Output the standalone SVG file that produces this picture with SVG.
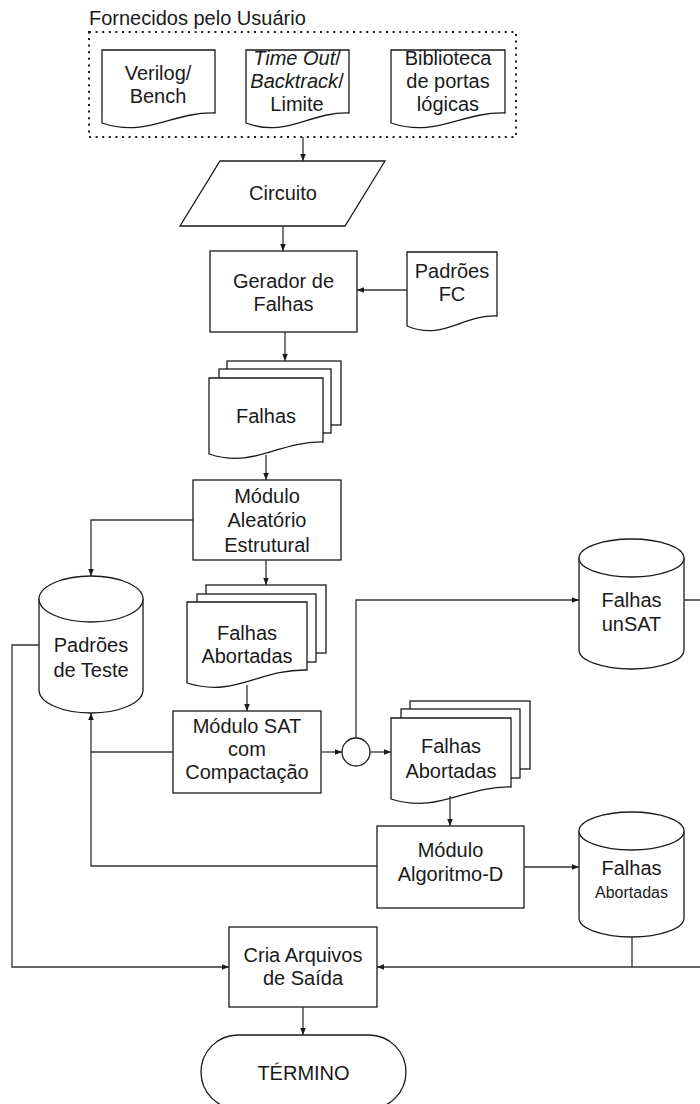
<svg xmlns="http://www.w3.org/2000/svg" width="700" height="1104" viewBox="0 0 700 1104">
  <style>
    .shape { fill: #ffffff; stroke: #1a1a1a; stroke-width: 1.3; }
    .edge { fill: none; stroke: #333333; stroke-width: 1.3; }
    .dotted { fill: none; stroke: #1a1a1a; stroke-width: 2; stroke-dasharray: 2 4.6; }
    text { font-family: "Liberation Sans", Arial, sans-serif; font-size: 20px; fill: #1a1a1a; text-anchor: middle; }
    .title { text-anchor: start; }
    .it { font-style: italic; }
    .small { font-size: 16px; }
  </style>
  <defs>
    <marker id="arrow" viewBox="0 0 10 10" refX="10" refY="5" markerWidth="7" markerHeight="7" markerUnits="userSpaceOnUse" orient="auto">
      <path d="M0,1 L10,5 L0,9 Z" fill="#1a1a1a"/>
    </marker>
  </defs>

  <!-- user-supplied inputs -->
  <g id="inputs">
    <text class="title" x="89" y="25">Fornecidos pelo Usuário</text>
    <rect class="dotted" x="89" y="32" width="427" height="105"/>
  </g>

  <g id="verilog">
    <path class="shape" d="M102,50 H215 V113 C169.8,112 147.2,138 102,123 Z"/>
    <text x="158" y="80">Verilog/</text>
    <text x="158" y="103">Bench</text>
  </g>

  <g id="timeout">
    <path class="shape" d="M246,50 H349 V113 C307.8,112 287.2,138 246,123 Z"/>
    <text x="297" y="65"><tspan class="it">Time Out</tspan>/</text>
    <text x="297" y="88"><tspan class="it">Backtrack</tspan>/</text>
    <text x="297" y="111">Limite</text>
  </g>

  <g id="biblioteca">
    <path class="shape" d="M391,50 H505 V113 C459.4,112 436.6,138 391,123 Z"/>
    <text x="448" y="65">Biblioteca</text>
    <text x="448" y="88">de portas</text>
    <text x="448" y="111">lógicas</text>
  </g>

  <g id="circuito">
    <path class="shape" d="M220,161 H385 L345,226 H180 Z"/>
    <text x="283" y="200">Circuito</text>
  </g>

  <g id="gerador">
    <rect class="shape" x="210" y="251" width="147" height="81"/>
    <text x="283.5" y="288">Gerador de</text>
    <text x="283.5" y="311">Falhas</text>
  </g>

  <g id="padroes-fc">
    <path class="shape" d="M407,252 H497 V316 C461,315 443,341 407,326 Z"/>
    <text x="452" y="278">Padrões</text>
    <text x="452" y="301">FC</text>
  </g>

  <g id="falhas">
    <rect class="shape" x="227" y="361" width="114" height="64"/>
    <rect class="shape" x="219" y="369" width="112" height="64"/>
    <path class="shape" d="M209,378 H323 V442 C277.4,441 254.6,469 209,454 Z"/>
    <text x="266" y="423">Falhas</text>
  </g>

  <g id="modulo-aleatorio">
    <rect class="shape" x="193" y="480" width="148" height="80"/>
    <text x="267" y="503">Módulo</text>
    <text x="267" y="527">Aleatório</text>
    <text x="267" y="552">Estrutural</text>
  </g>

  <g id="padroes-teste">
    <path class="shape" d="M39,599 A52,23 0 0 1 143,599 V690 A52,23 0 0 1 39,690 Z"/>
    <path class="shape" fill="none" d="M39,599 A52,23 0 0 0 143,599"/>
    <text x="91" y="652">Padrões</text>
    <text x="91" y="677">de Teste</text>
  </g>

  <g id="falhas-abortadas-1">
    <rect class="shape" x="206" y="585" width="120" height="68"/>
    <rect class="shape" x="197" y="594" width="119" height="68"/>
    <path class="shape" d="M187,602 H307 V670 C259,669 235,698 187,683 Z"/>
    <text x="247" y="640">Falhas</text>
    <text x="247" y="663">Abortadas</text>
  </g>

  <g id="modulo-sat">
    <rect class="shape" x="173" y="711" width="148" height="82"/>
    <text x="247" y="733">Módulo SAT</text>
    <text x="247" y="756">com</text>
    <text x="247" y="779">Compactação</text>
  </g>

  <g id="juncao">
    <circle class="shape" cx="356" cy="752" r="14"/>
  </g>

  <g id="falhas-abortadas-2">
    <rect class="shape" x="410" y="701" width="120" height="68"/>
    <rect class="shape" x="401" y="709" width="119" height="69"/>
    <path class="shape" d="M391,718 H511 V787 C463,786 439,814 391,799 Z"/>
    <text x="451" y="753">Falhas</text>
    <text x="451" y="778">Abortadas</text>
  </g>

  <g id="falhas-unsat">
    <path class="shape" d="M579,558 A52.5,19 0 0 1 684,558 V650 A52.5,19 0 0 1 579,650 Z"/>
    <path class="shape" fill="none" d="M579,558 A52.5,19 0 0 0 684,558"/>
    <text x="631.5" y="607">Falhas</text>
    <text x="631.5" y="631">unSAT</text>
  </g>

  <g id="algoritmo-d">
    <rect class="shape" x="377" y="826" width="147" height="82"/>
    <text x="450.5" y="857">Módulo</text>
    <text x="450.5" y="881">Algoritmo-D</text>
  </g>

  <g id="falhas-abortadas-db">
    <path class="shape" d="M579,831 A52.5,19 0 0 1 684,831 V918 A52.5,19 0 0 1 579,918 Z"/>
    <path class="shape" fill="none" d="M579,831 A52.5,19 0 0 0 684,831"/>
    <text x="631.5" y="875">Falhas</text>
    <text class="small" x="631.5" y="898">Abortadas</text>
  </g>

  <g id="cria-arquivos">
    <rect class="shape" x="229" y="927" width="148" height="80"/>
    <text x="303" y="962">Cria Arquivos</text>
    <text x="303" y="985">de Saída</text>
  </g>

  <g id="termino">
    <rect class="shape" x="201" y="1035" width="205" height="74" rx="37" ry="37"/>
    <text x="303.5" y="1080">TÉRMINO</text>
  </g>

  <!-- connectors -->
  <g id="connectors">
    <path class="edge" marker-end="url(#arrow)" d="M303,137 V161"/>
    <path class="edge" marker-end="url(#arrow)" d="M283,226 V251"/>
    <path class="edge" marker-end="url(#arrow)" d="M407,290 H357"/>
    <path class="edge" marker-end="url(#arrow)" d="M285,332 V361"/>
    <path class="edge" marker-end="url(#arrow)" d="M266,455 V480"/>
    <path class="edge" marker-end="url(#arrow)" d="M266,560 V585"/>
    <path class="edge" marker-end="url(#arrow)" d="M193,520 H91 V576"/>
    <path class="edge" marker-end="url(#arrow)" d="M247,685 V711"/>
    <path class="edge" marker-end="url(#arrow)" d="M321,752 H342"/>
    <path class="edge" marker-end="url(#arrow)" d="M370,752 H391"/>
    <path class="edge" marker-end="url(#arrow)" d="M356,738 V600 H579"/>
    <path class="edge" marker-end="url(#arrow)" d="M684,600 H702 V967 H377"/>
    <path class="edge" d="M632,937 V967"/>
    <path class="edge" marker-end="url(#arrow)" d="M450,796 V826"/>
    <path class="edge" marker-end="url(#arrow)" d="M524,867 H579"/>
    <path class="edge" marker-end="url(#arrow)" d="M377,866 H91 V713"/>
    <path class="edge" d="M173,752 H91"/>
    <path class="edge" marker-end="url(#arrow)" d="M39,645 H12 V967 H229"/>
    <path class="edge" marker-end="url(#arrow)" d="M303,1007 V1035"/>
  </g>
</svg>
